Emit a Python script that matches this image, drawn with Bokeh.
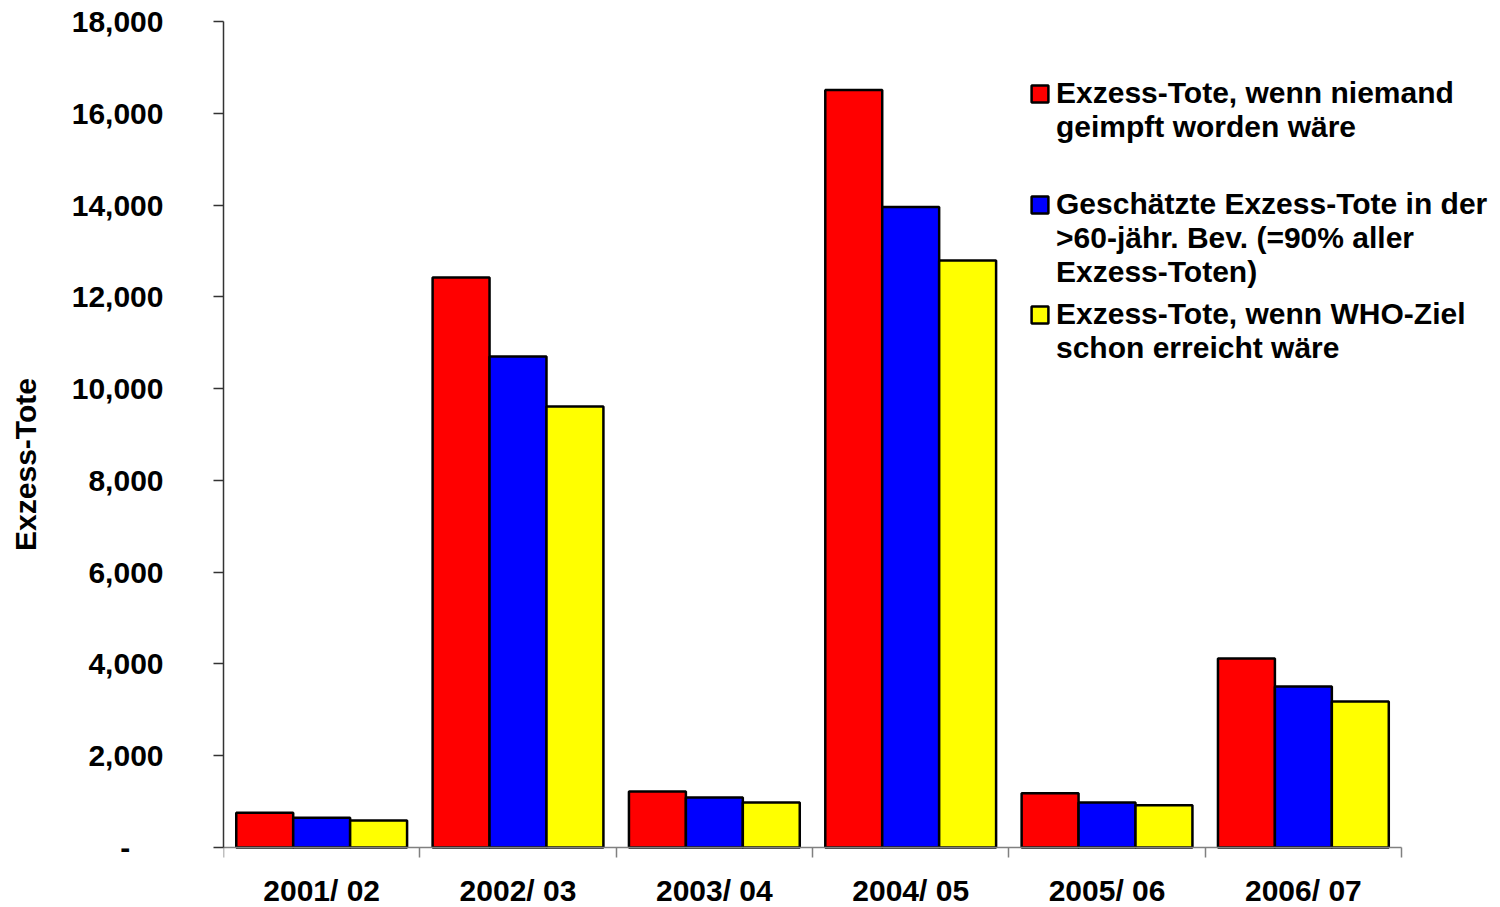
from bokeh.plotting import figure
from bokeh.models import FixedTicker, Legend, LegendItem, Range1d, ColumnDataSource
from bokeh.embed import file_html
from bokeh.resources import INLINE

# ---- data ----
seasons = ["2001/ 02", "2002/ 03", "2003/ 04", "2004/ 05", "2005/ 06", "2006/ 07"]
no_vaccination = [760, 12420, 1220, 16510, 1180, 4120]
over60_estimate = [650, 10700, 1090, 13960, 980, 3510]
who_goal = [590, 9610, 980, 12790, 920, 3180]

y_ticks = [0, 2000, 4000, 6000, 8000, 10000, 12000, 14000, 16000, 18000]
y_tick_labels = ["-\u00a0\u00a0\u00a0\u00a0", "2,000", "4,000", "6,000", "8,000", "10,000",
                 "12,000", "14,000", "16,000", "18,000"]

series_label_lines = [
    ["Exzess-Tote, wenn niemand", "geimpft worden wäre"],
    ["Geschätzte Exzess-Tote in der", ">60-jähr. Bev. (=90% aller", "Exzess-Toten)"],
    ["Exzess-Tote, wenn WHO-Ziel", "schon erreicht wäre"],
]
series_colors = ["#FF0000", "#0000FF", "#FFFF00"]
series_values = [no_vaccination, over60_estimate, who_goal]

FONT = "Liberation Sans"

p = figure(width=1500, height=907, output_backend="svg", toolbar_location=None,
           x_range=Range1d(0, 6.504), y_range=Range1d(-1307, 18000),
           min_border_left=223, min_border_right=0, min_border_top=21,
           min_border_bottom=0)
p.outline_line_color = None
p.xgrid.visible = False
p.ygrid.visible = False
p.background_fill_color = "white"
p.border_fill_color = "white"

bar_w = 0.29
offsets = [-bar_w, 0.0, bar_w]
centers = [i + 0.5 for i in range(len(seasons))]

bar_renderers = []
for vals, col, off in zip(series_values, series_colors, offsets):
    src = ColumnDataSource(dict(x=[c + off for c in centers], top=vals))
    r = p.vbar(x="x", top="top", bottom=0, width=bar_w, source=src,
               fill_color=col, line_color="black", line_width=2.5)
    bar_renderers.append(r)

# invisible renderer used for continuation lines of the legend labels
blank = p.vbar(x=[], top=[], width=0.1, fill_alpha=0, line_alpha=0)

# x axis drawn at y = 0: labels at centers, ticks at category boundaries
xax = p.xaxis[0]
xax.fixed_location = 0
xax.bounds = (0, len(seasons))
xax.ticker = FixedTicker(ticks=centers, minor_ticks=list(range(len(seasons) + 1)))
xax.major_label_overrides = {c: s for c, s in zip(centers, seasons)}
xax.major_tick_line_color = None
xax.major_tick_out = 0
xax.major_tick_in = 0
xax.minor_tick_out = 10
xax.minor_tick_in = 0
xax.minor_tick_line_color = "#808080"
xax.axis_line_color = "#808080"
xax.axis_line_width = 1.5
xax.minor_tick_line_width = 1.5
xax.major_label_text_font = FONT
xax.major_label_text_font_style = "bold"
xax.major_label_text_font_size = "30px"
xax.major_label_text_color = "black"
xax.major_label_standoff = 16

yax = p.yaxis[0]
yax.bounds = (0, 18000)
yax.ticker = FixedTicker(ticks=y_ticks, minor_ticks=[])
yax.major_label_overrides = {t: s for t, s in zip(y_ticks, y_tick_labels)}
yax.major_tick_out = 10
yax.major_tick_in = 0
yax.major_tick_line_color = "#333333"
yax.major_tick_line_width = 1.5
yax.axis_line_color = "#333333"
yax.axis_line_width = 1.5
yax.major_label_text_font = FONT
yax.major_label_text_font_style = "bold"
yax.major_label_text_font_size = "30px"
yax.major_label_text_color = "black"
yax.major_label_standoff = 50
yax.axis_label = "Exzess-Tote"
yax.axis_label_text_font = FONT
yax.axis_label_text_font_style = "bold"
yax.axis_label_text_font_size = "30px"
yax.axis_label_text_color = "black"
yax.axis_label_standoff = 27

legend_locations = [(806, 763), (806, 618), (806, 542)]
for r, lines, loc in zip(bar_renderers, series_label_lines, legend_locations):
    items = [LegendItem(label=lines[0], renderers=[r])]
    items += [LegendItem(label=ln, renderers=[blank]) for ln in lines[1:]]
    lg = Legend(items=items, location=loc,
                padding=0, margin=0, spacing=0,
                border_line_color=None, background_fill_alpha=0,
                glyph_width=21, glyph_height=21, label_standoff=6,
                label_height=34,
                label_text_font=FONT, label_text_font_style="bold",
                label_text_font_size="30px",
                label_text_color="black")
    p.add_layout(lg, "center")

open("out.html", "w").write(file_html(p, INLINE))
